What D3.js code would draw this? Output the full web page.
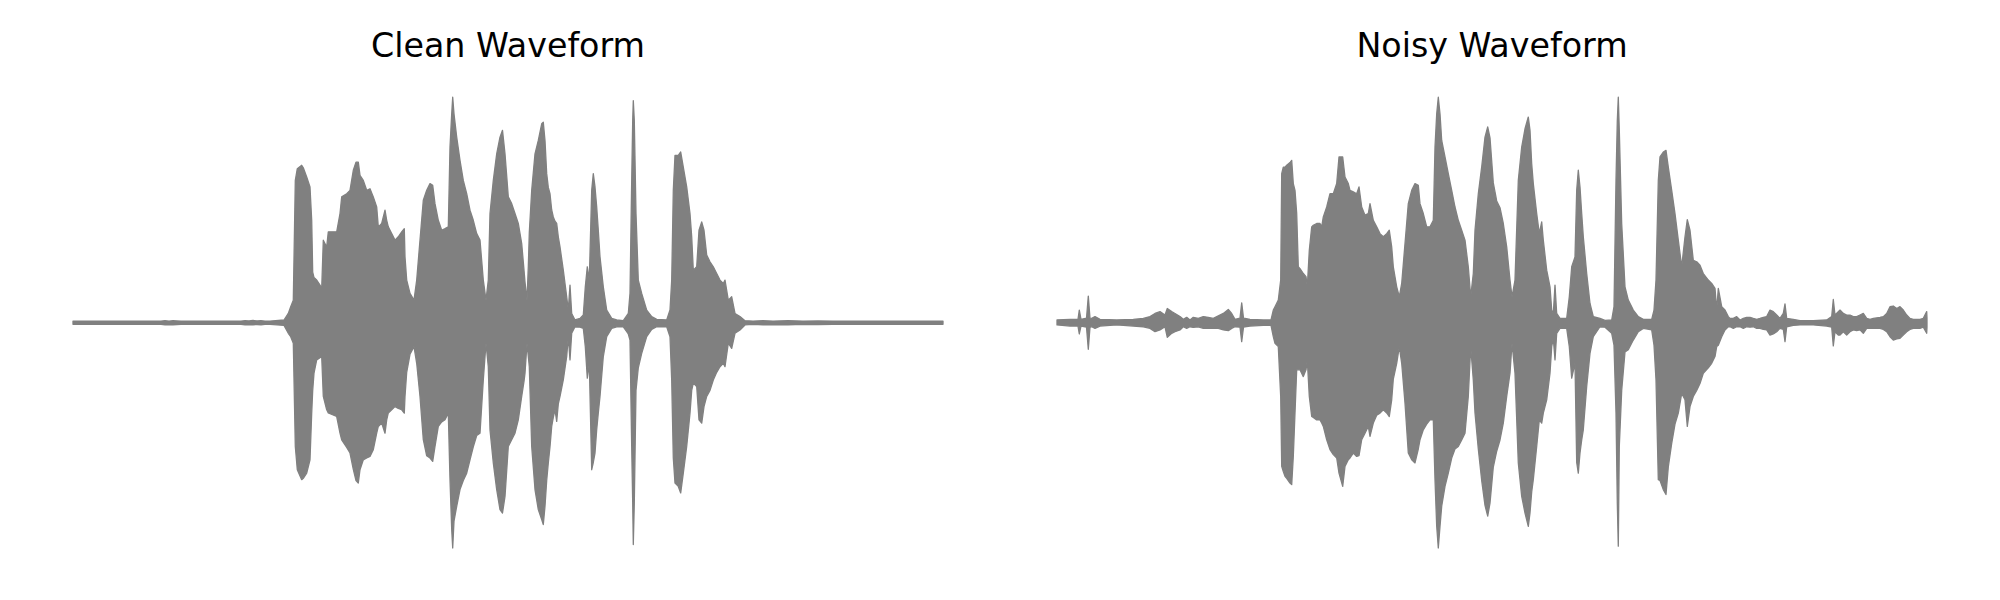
<!DOCTYPE html>
<html>
<head>
<meta charset="utf-8">
<script src="https://cdn.jsdelivr.net/npm/d3@7"></script>
<style>
  html, body { margin: 0; padding: 0; background: #ffffff; }
  svg { display: block; }
</style>
</head>
<body>
<div id="chart"></div>
<script>
// ---- DATA -------------------------------------------------------------
// Panel titles
const panelTitles = ["Clean Waveform", "Noisy Waveform"];

// Envelope of each waveform: [frame index, upper peak amplitude, |lower peak amplitude|]
// (amplitude normalised to the loudest sample = 1.0, 870 frames)
const cleanEnvelope = [
  [0, .007, .007], [88, .007, .007], [92, .009, .009], [96, .007, .008], [100, .009, .009],
  [104, .008, .008], [108, .007, .007], [168, .007, .007], [172, .009, .009], [176, .008, .008],
  [180, .01, .009], [184, .008, .008], [188, .009, .009], [192, .007, .007], [197, .007, .007],
  [211, .012, .012], [215.3, .041, .047], [217.7, .071, .062], [220.3, .10, .091],
  [222.3, .631, .549], [224.3, .683, .652], [228.7, .698, .696], [230.3, .687, .69],
  [233.7, .646, .667], [237, .602, .608], [238.7, .454, .401], [239.7, .224, .30],
  [241, .20, .224], [243.7, .189, .165], [247, .167, .155], [248.7, .152, .15],
  [250.3, .366, .327], [253.7, .336, .386], [255.3, .403, .40], [263.7, .403, .416],
  [267, .484, .49], [268.7, .558, .52], [273.7, .572, .553], [277, .587, .578],
  [280.3, .676, .65], [283, .712, .70], [285.3, .712, .711], [287, .653, .652],
  [290.3, .631, .608], [293.7, .587, .60], [297, .594, .593], [300.3, .558, .563],
  [303.7, .513, .49], [305.3, .425, .46], [308.7, .44, .445], [312, .499, .49],
  [313.7, .454, .431], [315.3, .425, .40], [318.7, .395, .386], [322, .366, .372],
  [325.3, .381, .38], [328.7, .403, .386], [331.3, .417, .401], [332, .292, .327],
  [333.7, .189, .22], [337, .13, .14], [341, .10, .106], [343.7, .189, .18],
  [347, .366, .327], [350.3, .543, .519], [353.7, .587, .59], [357, .617, .60],
  [359.7, .609, .615], [362, .528, .549], [365.3, .454, .46], [368.7, .41, .44],
  [372, .417, .43], [375.3, .425, .401], [377, .779, .696], [378.7, .926, .917],
  [379.7, 1.0, .999], [381, .926, .88], [383.7, .823, .814], [387, .72, .74],
  [390.3, .631, .70], [393.7, .572, .667], [397, .499, .608], [400.3, .454, .55],
  [403.7, .395, .50], [407, .366, .49], [410.3, .189, .254], [413, .10, .091],
  [415.3, .189, .195], [417, .484, .475], [420.3, .631, .622], [423.7, .749, .74],
  [427, .823, .829], [429.5, .853, .844], [432, .749, .77], [435.3, .558, .549],
  [438.7, .528, .519], [442, .484, .49], [445.3, .44, .431], [448.7, .351, .327],
  [451, .233, .26], [452, .18, .224], [454, .10, .091], [455.3, .248, .15],
  [456.3, .40, .195], [458.7, .587, .549], [462, .749, .74], [465.3, .808, .829],
  [468.7, .882, .873], [470.3, .889, .895], [472, .808, .814], [473.7, .661, .70],
  [475.3, .60, .622], [477, .572, .55], [478.7, .50, .46], [480.3, .469, .42],
  [482, .45, .386], [483.7, .44, .438], [485.3, .381, .36], [487, .336, .327],
  [490.3, .233, .254], [493.7, .115, .15], [495.3, .056, .062], [497, .167, .165],
  [498.7, .041, .047], [502, .012, .018], [507, .019, .02], [510.3, .034, .025],
  [512.3, .159, .106], [514.3, .248, .246], [516.3, .189, .18], [518.7, .587, .652],
  [520.3, .661, .62], [522, .602, .578], [523.7, .513, .475], [525.3, .41, .40],
  [527, .292, .327], [530.3, .159, .15], [533.7, .056, .062], [538.7, .019, .025],
  [543.7, .012, .018], [550.3, .009, .018], [555.3, .041, .05], [557, .13, .077],
  [558.7, .631, .549], [559.7, .897, .80], [560.3, .985, .984], [561.3, .897, .80],
  [563, .484, .30], [565.3, .189, .20], [568.7, .13, .136], [573.7, .056, .062],
  [578.7, .027, .03], [583.7, .015, .018], [593.7, .012, .018], [597, .056, .062],
  [598.7, .189, .254], [600.3, .587, .60], [602, .742, .711], [605.3, .742, .726],
  [607.7, .757, .755], [610.3, .69, .667], [613.7, .602, .549], [617, .484, .401],
  [618.7, .381, .30], [620.3, .233, .268], [623.7, .248, .283], [626, .41, .431],
  [628.7, .447, .445], [631, .41, .372], [633.7, .30, .327], [637, .27, .30],
  [640.3, .248, .254], [643.7, .218, .22], [647, .189, .195], [650.3, .174, .18],
  [652, .189, .195], [655.3, .10, .091], [658.7, .115, .114], [662, .041, .047],
  [667, .027, .032], [672, .009, .01], [680, .007, .007], [690, .009, .009],
  [700, .007, .008], [715, .009, .009], [730, .007, .007], [745, .008, .008],
  [760, .007, .007], [870, .007, .007]
];

const noisyEnvelope = [
  [0, .012, .01], [13, .015, .015], [21, .015, .015], [22.3, .056, .05], [24, .015, .015],
  [29.5, .02, .02], [31.3, .118, .118], [33, .02, .02], [34.7, .019, .018], [38, .027, .025],
  [43, .015, .015], [59.7, .012, .01], [76.3, .015, .015], [86.3, .019, .018], [93, .027, .025],
  [98, .041, .04], [103, .049, .032], [108, .034, .018], [110.3, .063, .065], [114.7, .049, .047],
  [118, .041, .04], [123, .027, .032], [126.3, .015, .018], [129.7, .024, .025], [133, .012, .018],
  [136.3, .024, .021], [141.3, .019, .018], [146.3, .027, .025], [151.3, .024, .025],
  [156.3, .019, .025], [161.3, .03, .025], [166.3, .041, .032], [171.3, .059, .035],
  [174.7, .041, .025], [178, .015, .018], [183, .02, .02], [184.7, .088, .084], [186.5, .02, .02],
  [188, .019, .018], [193, .015, .015], [206.3, .012, .012], [214, .012, .012],
  [216.3, .056, .062], [218, .071, .091], [221.3, .10, .106], [223.7, .189, .327],
  [224.7, .661, .637], [226.3, .69, .66], [228, .69, .681], [229.7, .698, .69],
  [233, .71, .711], [234.7, .72, .718], [236.3, .617, .593], [238, .587, .40],
  [239.7, .484, .209], [241.3, .248, .209], [243, .24, .209], [246.3, .218, .239],
  [249, .204, .209], [250.3, .159, .165], [252.3, .321, .327], [254.7, .425, .416],
  [256.3, .432, .42], [259.7, .44, .431], [263, .44, .431], [264.7, .425, .445],
  [266.3, .469, .46], [269.7, .513, .519], [273, .572, .563], [276.3, .572, .585],
  [279.7, .617, .60], [282, .735, .667], [285.7, .735, .726], [288, .646, .637],
  [291.3, .617, .608], [293, .587, .60], [296.3, .58, .578], [299.7, .572, .593],
  [302, .602, .59], [304.7, .513, .519], [308, .477, .49], [311.3, .484, .46],
  [313, .528, .504], [316.3, .454, .445], [319.7, .425, .41], [323, .395, .401],
  [326.3, .381, .386], [329.7, .395, .40], [332.3, .41, .416], [334.7, .336, .342],
  [336.3, .248, .25], [339.7, .159, .18], [342.3, .115, .106], [344.7, .174, .18],
  [348, .351, .357], [351.3, .528, .578], [354.7, .587, .608], [358, .617, .622],
  [361.3, .609, .56], [363, .528, .519], [366.3, .484, .475], [369.7, .425, .45],
  [373, .425, .431], [376.3, .454, .431], [378, .779, .696], [379.7, .926, .903],
  [381.3, 1.0, .999], [383, .926, .903], [384.7, .808, .814], [388, .735, .726],
  [391.3, .661, .667], [394.7, .587, .60], [398, .513, .56], [401.3, .454, .549],
  [404.7, .41, .52], [408, .366, .49], [411.3, .248, .327], [413.7, .115, .106],
  [416.3, .218, .254], [418, .41, .40], [421.3, .572, .56], [424.7, .691, .70],
  [428, .823, .81], [430.7, .868, .858], [433, .82, .80], [436.3, .62, .64],
  [439.7, .54, .57], [443, .51, .52], [446.3, .44, .445], [449.7, .336, .327],
  [453, .189, .224], [455, .115, .091], [458, .189, .224], [461.3, .631, .622],
  [464.7, .779, .77], [468, .86, .844], [471.3, .912, .903], [473, .853, .844],
  [474.7, .705, .75], [476.3, .617, .696], [479.7, .484, .549], [482.3, .395, .431],
  [484.7, .447, .445], [486.3, .366, .401], [489.7, .233, .342], [493, .159, .224],
  [494.7, .056, .106], [496.3, .041, .07], [498, .167, .165], [499.7, .041, .047],
  [503, .019, .025], [509.7, .019, .025], [512.3, .115, .106], [514.7, .248, .246],
  [518, .292, .18], [519.7, .587, .62], [521.3, .676, .667], [523, .602, .578],
  [524.7, .484, .52], [526.3, .381, .475], [529.7, .218, .283], [533, .085, .136],
  [536.3, .027, .062], [543, .019, .018], [548, .01, .02], [554.7, .012, .047],
  [557, .071, .10], [559, .631, .401], [560.3, .897, .80], [561.3, 1.0, .991],
  [562.3, .853, .549], [564.7, .439, .30], [568, .159, .13], [571.3, .10, .12],
  [576.3, .056, .077], [581.3, .027, .04], [586.3, .015, .025], [594.7, .015, .032],
  [597, .056, .10], [599, .189, .254], [601.3, .631, .696], [603, .735, .70],
  [606.3, .757, .74], [609, .764, .762], [611.3, .69, .64], [614.7, .587, .535],
  [618, .484, .45], [621.3, .366, .401], [624.7, .248, .314], [628, .381, .342],
  [630.3, .457, .46], [633, .41, .372], [636.3, .277, .327], [639.7, .27, .30],
  [643, .255, .27], [646.3, .218, .224], [651.3, .189, .20], [654.7, .174, .18],
  [658, .152, .15], [659.7, .056, .106], [661.3, .152, .10], [664.7, .071, .062],
  [668, .056, .032], [671.3, .027, .018], [673, .019, .018], [676.3, .019, .025],
  [679.7, .027, .018], [683, .012, .018], [686.3, .019, .025], [689.7, .024, .018],
  [693, .024, .02], [696.3, .019, .018], [699.7, .015, .025], [703, .019, .025],
  [706.3, .024, .03], [709.7, .027, .032], [713, .056, .055], [716.3, .049, .05],
  [719.7, .034, .04], [723, .019, .025], [726.3, .041, .03], [728, .083, .084],
  [729.7, .019, .018], [736.3, .015, .012], [743, .009, .01], [756.3, .009, .01],
  [769.7, .012, .015], [774.7, .027, .02], [776.3, .103, .103], [778, .034, .04],
  [781.3, .049, .055], [783, .056, .055], [786.3, .041, .04], [789.7, .034, .055],
  [793, .034, .04], [796.3, .027, .032], [799.7, .027, .035], [803, .034, .032],
  [806.3, .041, .047], [809.7, .019, .025], [813, .015, .025], [816.3, .019, .025],
  [823, .024, .025], [826.3, .027, .03], [829.7, .041, .04], [833, .071, .062],
  [836.3, .074, .077], [839.7, .063, .072], [843, .071, .069], [846.3, .056, .055],
  [849.7, .034, .04], [853, .019, .03], [856.3, .015, .025], [863, .015, .025],
  [866.3, .019, .02], [869.7, .049, .047], [870, .02, .02]
];

const frameExtent = [0, 870];
const amplitudeExtent = [-1, 1];

// ---- LAYOUT -----------------------------------------------------------
const W = 2000, H = 600;
const panels = [
  { title: panelTitles[0], data: cleanEnvelope, x0: 73, x1: 943 },
  { title: panelTitles[1], data: noisyEnvelope, x0: 1057, x1: 1927 }
];
const centerY = 322.7, halfH = 225.5;
const waveColor = "#808080";

const svg = d3.select("#chart").append("svg")
  .attr("width", W).attr("height", H)
  .attr("viewBox", `0 0 ${W} ${H}`);

svg.append("rect").attr("width", W).attr("height", H).attr("fill", "#ffffff");

const y = d3.scaleLinear().domain(amplitudeExtent).range([centerY + halfH, centerY - halfH]);

panels.forEach(p => {
  const x = d3.scaleLinear().domain(frameExtent).range([p.x0, p.x1]);
  const area = d3.area()
    .x(d => x(d[0]))
    .y0(d => y(-d[2]))
    .y1(d => y(d[1]))
    .curve(d3.curveLinear);

  const g = svg.append("g");
  g.append("path")
    .datum(p.data)
    .attr("d", area)
    .attr("fill", waveColor)
    .attr("stroke", waveColor)
    .attr("stroke-width", 1.3)
    .attr("stroke-linejoin", "round");

  svg.append("text")
    .attr("x", (p.x0 + p.x1) / 2)
    .attr("y", 57)
    .attr("text-anchor", "middle")
    .attr("font-family", "'DejaVu Sans', sans-serif")
    .attr("font-size", "33.3px")
    .attr("fill", "#000000")
    .text(p.title);
});
</script>
</body>
</html>
